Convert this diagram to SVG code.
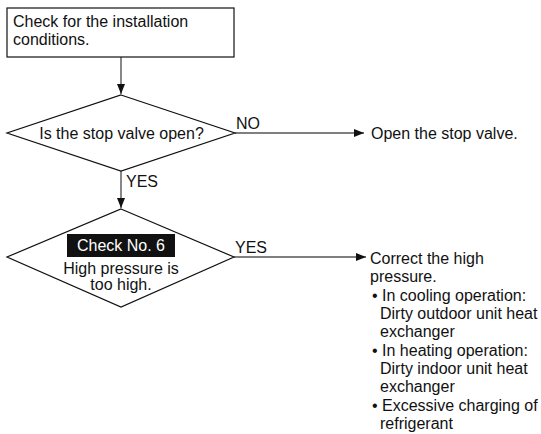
<svg xmlns="http://www.w3.org/2000/svg" width="541" height="434" viewBox="0 0 541 434">
  <style>
    text { font-family: "Liberation Sans", Arial, sans-serif; font-size: 16px; fill: #111; }
    .shape { fill: #fff; stroke: #111; stroke-width: 1.2; }
    .link { fill: none; stroke: #555; stroke-width: 1.4; }
    .mid { text-anchor: middle; }
    .inv { fill: #fff; }
  </style>
  <defs>
    <marker id="arrow" viewBox="0 0 10 8" refX="10" refY="4" markerWidth="10" markerHeight="8" markerUnits="userSpaceOnUse" orient="auto">
      <path d="M0,0 L10,4 L0,8 Z" fill="#111"/>
    </marker>
  </defs>

  <rect width="541" height="434" fill="#fff"/>

  <!-- connectors -->
  <g id="connectors">
    <line class="link" x1="121" y1="57" x2="121" y2="94" marker-end="url(#arrow)"/>
    <line class="link" x1="235" y1="133" x2="364" y2="133" marker-end="url(#arrow)"/>
    <line class="link" x1="121" y1="171" x2="121" y2="208" marker-end="url(#arrow)"/>
    <line class="link" x1="234" y1="257" x2="366" y2="257" marker-end="url(#arrow)"/>
    <text x="236" y="129">NO</text>
    <text x="126" y="187">YES</text>
    <text x="235" y="253">YES</text>
  </g>

  <!-- start: installation check -->
  <g id="check-installation">
    <rect class="shape" x="7" y="8" width="227" height="49"/>
    <text x="13" y="27">Check for the installation</text>
    <text x="13" y="45">conditions.</text>
  </g>

  <!-- decision: stop valve -->
  <g id="stop-valve">
    <polygon class="shape" points="121,95 235,133 121,171 7,133"/>
    <text class="mid" x="121.5" y="139">Is the stop valve open?</text>
  </g>

  <!-- action: open valve -->
  <g id="open-valve">
    <text x="371" y="139">Open the stop valve.</text>
  </g>

  <!-- decision: check no. 6 -->
  <g id="check-6">
    <polygon class="shape" points="121,209 234,257 121,307 7,257"/>
    <rect x="67" y="234" width="108" height="23" fill="#111"/>
    <text class="mid inv" x="121" y="251">Check No. 6</text>
    <text class="mid" x="121" y="274">High pressure is</text>
    <text class="mid" x="121" y="290">too high.</text>
  </g>

  <!-- action: correct high pressure -->
  <g id="correct-pressure">
    <text x="370" y="264">Correct the high</text>
    <text x="370" y="282">pressure.</text>
    <text x="372" y="301">• In cooling operation:</text>
    <text x="380" y="319">Dirty outdoor unit heat</text>
    <text x="380" y="337">exchanger</text>
    <text x="372" y="356">• In heating operation:</text>
    <text x="380" y="374">Dirty indoor unit heat</text>
    <text x="380" y="392">exchanger</text>
    <text x="372" y="411">• Excessive charging of</text>
    <text x="380" y="429">refrigerant</text>
  </g>
</svg>
